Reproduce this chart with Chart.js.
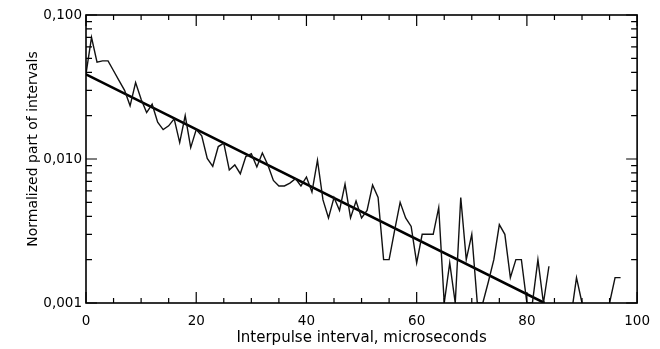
<!DOCTYPE html>
<html>
<head>
<meta charset="utf-8">
<script src="https://cdn.jsdelivr.net/npm/chart.js@4.4.1/dist/chart.umd.min.js"></script>
<style>
  html, body { margin: 0; padding: 0; background: #fff; }
  #wrap { width: 660px; height: 349px; }
</style>
</head>
<body>
<div id="wrap"><canvas id="chart" width="660" height="349"></canvas></div>
<script>
// normalized part of intervals, one value per 1 microsecond bin starting at 0 (null = empty bin)
const fraction = [
  0.039, 0.070, 0.047, 0.048, 0.048, 0.041, 0.035, 0.030, 0.0234, 0.034,
  0.026, 0.021, 0.024, 0.018, 0.016, 0.017, 0.019, 0.013, 0.020, 0.012,
  0.016, 0.0145, 0.0101, 0.0089, 0.0122, 0.0129, 0.0084, 0.0091, 0.0079, 0.0104,
  0.0109, 0.0088, 0.011, 0.0091, 0.0071, 0.0065, 0.0065, 0.0068, 0.0073, 0.0065,
  0.0075, 0.0059, 0.0098, 0.0052, 0.0039, 0.0054, 0.0044, 0.0067, 0.0039, 0.0051,
  0.0039, 0.0044, 0.0066, 0.0054, 0.0020, 0.0020, 0.0032, 0.0050, 0.0039, 0.0034,
  0.0019, 0.0030, 0.0030, 0.0030, 0.0046, 0.001, 0.0019, 0.001, 0.0054, 0.0020,
  0.0030, 0.001, 0.001, 0.0014, 0.0020, 0.0035, 0.0030, 0.0015, 0.0020, 0.0020,
  0.001, 0.001, 0.0020, 0.001, 0.0018, null, null, null, 0.0008, 0.0015,
  0.001, null, null, null, null, 0.001, 0.0015, 0.0015
];

// exponential fit, end points
const fitX = [0, 83.2];
const fitY = [0.0387, 0.001];

const xTicks = [0, 20, 40, 60, 80, 100];
const yTicks = [0.001, 0.01, 0.1];
const yTickLabels = ['0,001', '0,010', '0,100'];

const frameTicks = {
  id: 'frameTicks',
  afterDatasetsDraw(chart) {
    const { ctx, chartArea: a, scales: { x, y } } = chart;
    ctx.save();
    ctx.strokeStyle = '#000';
    ctx.lineWidth = 1.2;
    ctx.beginPath();
    for (let v = 0; v <= 100; v += 5) {
      const px = x.getPixelForValue(v);
      const len = v % 20 === 0 ? 11 : 5;
      ctx.moveTo(px, a.bottom); ctx.lineTo(px, a.bottom - len);
      ctx.moveTo(px, a.top); ctx.lineTo(px, a.top + len);
    }
    [0.001, 0.01].forEach(dec => {
      for (let m = 1; m <= 10; m++) {
        const py = y.getPixelForValue(dec * m);
        const len = (m === 1 || m === 10) ? 11 : 6;
        ctx.moveTo(a.left, py); ctx.lineTo(a.left + len, py);
        ctx.moveTo(a.right, py); ctx.lineTo(a.right - len, py);
      }
    });
    ctx.stroke();

    ctx.lineWidth = 1.6;
    ctx.strokeRect(a.left, a.top, a.right - a.left, a.bottom - a.top);

    // y axis title
    ctx.translate(33.5, 149);
    ctx.rotate(-Math.PI / 2);
    ctx.fillStyle = '#000';
    ctx.font = '14px "DejaVu Sans"';
    ctx.textAlign = 'center';
    ctx.textBaseline = 'middle';
    ctx.fillText('Normalized part of intervals', 0, 0);
    ctx.restore();
  }
};

new Chart(document.getElementById('chart'), {
  type: 'line',
  data: {
    datasets: [
      {
        data: fraction.map((v, i) => ({ x: i, y: v })),
        borderColor: '#111',
        borderWidth: 1.4,
        pointRadius: 0,
        tension: 0,
        spanGaps: false
      },
      {
        data: fitX.map((v, i) => ({ x: v, y: fitY[i] })),
        borderColor: '#000',
        borderWidth: 2.6,
        pointRadius: 0,
        tension: 0
      }
    ]
  },
  options: {
    responsive: false,
    animation: false,
    devicePixelRatio: 1,
    layout: { padding: { top: 15, right: 22, left: 0, bottom: 0 } },
    plugins: {
      legend: { display: false },
      tooltip: { enabled: false }
    },
    scales: {
      x: {
        type: 'linear',
        min: 0,
        max: 100,
        afterBuildTicks: s => { s.ticks = xTicks.map(v => ({ value: v })); },
        afterFit: s => { s.height = 46; },
        grid: { display: false, drawTicks: false },
        border: { display: false },
        ticks: {
          color: '#000',
          padding: 10,
          maxRotation: 0,
          font: { family: 'DejaVu Sans', size: 13.5 },
          callback: v => String(v)
        },
        title: {
          display: true,
          text: 'Interpulse interval, microseconds',
          color: '#000',
          font: { family: 'DejaVu Sans', size: 15 },
          padding: { top: 0, bottom: 1.5 }
        }
      },
      y: {
        type: 'logarithmic',
        min: 0.001,
        max: 0.1,
        afterBuildTicks: s => { s.ticks = yTicks.map(v => ({ value: v })); },
        afterFit: s => { s.width = 86; },
        grid: { display: false, drawTicks: false },
        border: { display: false },
        ticks: {
          color: '#000',
          padding: 4,
          font: { family: 'DejaVu Sans', size: 13.5 },
          callback: v => yTickLabels[yTicks.indexOf(v)]
        }
      }
    }
  },
  plugins: [frameTicks]
});
</script>
</body>
</html>
